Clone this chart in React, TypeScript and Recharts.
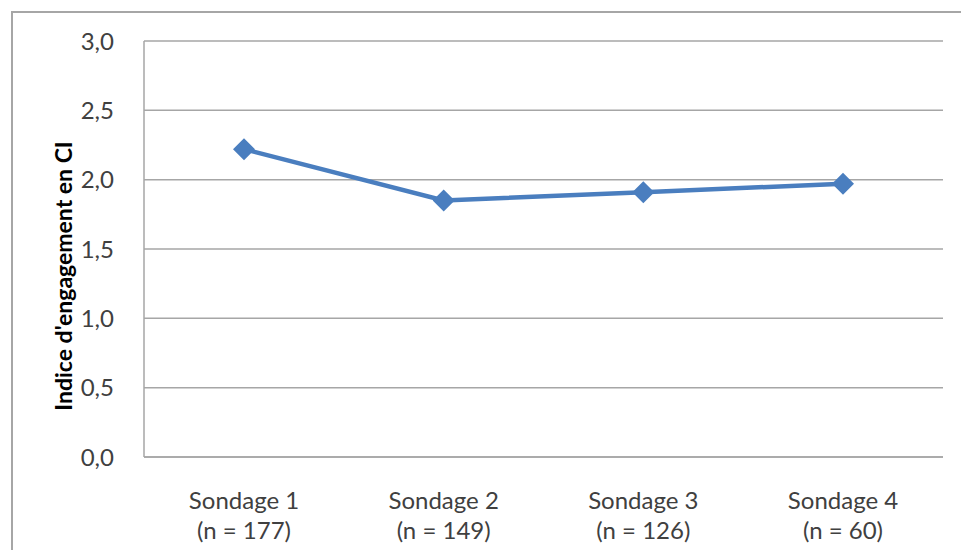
import React from 'react'
import { LineChart, Line, XAxis, YAxis, CartesianGrid } from 'recharts'

const surveys = ['Sondage 1', 'Sondage 2', 'Sondage 3', 'Sondage 4']
const sampleSizes = ['(n = 177)', '(n = 149)', '(n = 126)', '(n = 60)']
const engagement = [2.22, 1.85, 1.91, 1.97]
const yTicks = [0, 0.5, 1, 1.5, 2, 2.5, 3]

const data = surveys.map((s, i) => ({ name: s, sub: sampleSizes[i], value: engagement[i] }))

const FONT = 'Lato, "Open Sans", sans-serif'
const BLUE = '#4a7ebf'

const TwoLineTick = (props: any) => {
  const { x, y, payload, index } = props
  return (
    <text x={x} y={y} textAnchor="middle" fill="#404040" fontSize={24} fontFamily={FONT}>
      <tspan x={x} dy={44}>{payload.value}</tspan>
      <tspan x={x} dy={30}>{sampleSizes[index]}</tspan>
    </text>
  )
}

const Diamond = (props: any) => {
  const { cx, cy } = props
  if (cx == null || cy == null) return null
  const r = 11
  return <polygon points={`${cx},${cy - r} ${cx + r},${cy} ${cx},${cy + r} ${cx - r},${cy}`} fill={BLUE} />
}

const AxisTitle = (props: any) => {
  const { viewBox } = props
  const x = viewBox.x + 63
  const y = 276
  return (
    <text x={x} y={y} transform={`rotate(-90, ${x}, ${y})`} textAnchor="middle" dominantBaseline="central"
      fontSize={23} fontWeight="bold" fontFamily={FONT} fill="#000">
      Indice d'engagement en CI
    </text>
  )
}

export default function App() {
  return (
    <div style={{ position: 'absolute', left: 0, top: 0, width: 961, height: 550, background: '#fff', overflow: 'hidden' }}>
      <div style={{ position: 'absolute', left: 11, top: 11, width: 1000, height: 600, borderLeft: '2px solid #a6a6a6', borderTop: '2px solid #a6a6a6' }} />
      <div style={{ position: 'absolute', left: 0, top: 0 }}>
        <LineChart width={961} height={550} data={data} margin={{ top: 41, right: 18, bottom: 0, left: 0 }}>
          <CartesianGrid vertical={false} stroke="#a6a6a6" strokeWidth={1.5} />
          <XAxis dataKey="name" height={93} padding={{ left: 100, right: 100 }} tickLine={false}
            axisLine={{ stroke: '#a6a6a6', strokeWidth: 1.5 }} tick={<TwoLineTick />} interval={0} />
          <YAxis width={144} domain={[0, 3]} ticks={yTicks} tickLine={false}
            axisLine={{ stroke: '#a6a6a6', strokeWidth: 1.5 }}
            tickFormatter={(v: number) => v.toFixed(1).replace('.', ',')}
            tick={{ fill: '#404040', fontSize: 24, fontFamily: FONT }} tickMargin={24}
            label={<AxisTitle />} />
          <Line dataKey="value" stroke={BLUE} strokeWidth={4.5} dot={<Diamond />} activeDot={false} isAnimationActive={false} />
        </LineChart>
      </div>
    </div>
  )
}
